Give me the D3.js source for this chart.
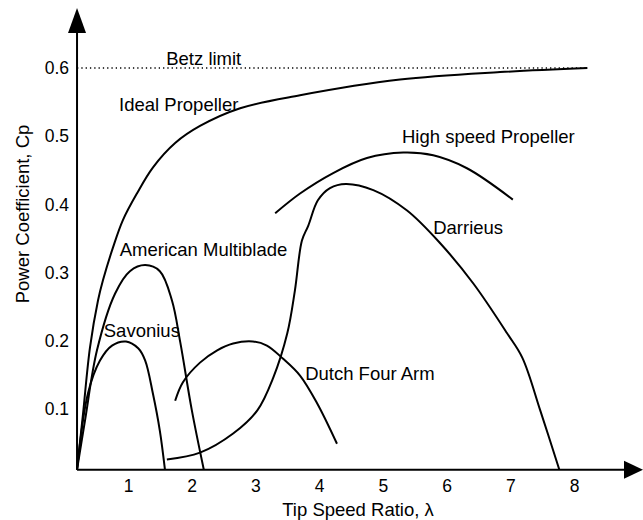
<!DOCTYPE html>
<html>
<head>
<meta charset="utf-8">
<script src="https://cdn.jsdelivr.net/npm/d3@7"></script>
<style>
  html, body { margin: 0; padding: 0; background: #fff; }
  svg { display: block; font-family: "Liberation Sans", Arial, sans-serif; }
</style>
</head>
<body>
<svg id="chart" width="643" height="520"></svg>
<script>
// Power coefficient curves of common rotor types, as [tip speed ratio, Cp] pairs.
const idealPropeller = [[0.2,0.011],[0.294,0.093],[0.403,0.19],[0.529,0.259],[0.608,0.289],[0.765,0.337],[0.92,0.377],[1.14,0.416],[1.39,0.454],[1.74,0.49],[2.13,0.515],[2.76,0.541],[3.7,0.56],[5.27,0.583],[6.84,0.594],[8.21,0.6]];
const americanMultiblade = [[0.2,0.011],[0.325,0.083],[0.513,0.186],[0.796,0.269],[1.03,0.302],[1.27,0.311],[1.5,0.302],[1.69,0.259],[1.82,0.198],[2.0,0.099],[2.19,0.011]];
const savonius = [[0.2,0.011],[0.372,0.123],[0.56,0.171],[0.749,0.193],[0.969,0.199],[1.16,0.189],[1.27,0.171],[1.39,0.123],[1.5,0.068],[1.58,0.011]];
const dutchFourArm = [[1.74,0.112],[1.86,0.139],[2.13,0.168],[2.4,0.186],[2.65,0.196],[2.96,0.199],[3.18,0.193],[3.43,0.174],[3.7,0.149],[3.97,0.108],[4.28,0.049]];
const darrieus = [[1.61,0.026],[2.13,0.036],[2.65,0.064],[3.03,0.098],[3.28,0.146],[3.5,0.211],[3.62,0.274],[3.73,0.347],[3.83,0.369],[3.98,0.406],[4.17,0.424],[4.42,0.43],[4.85,0.421],[5.38,0.391],[5.9,0.343],[6.42,0.284],[6.95,0.211],[7.19,0.175],[7.47,0.098],[7.77,0.011]];
const highSpeedPropeller = [[3.31,0.387],[3.7,0.416],[4.22,0.446],[4.75,0.468],[5.32,0.476],[5.79,0.472],[6.32,0.453],[7.04,0.407]];

const betzLimit = 0.6;
const betzRange = [0.2, 8.21];
const axisOrigin = [0.2, 0.011];

const xTicks = [1, 2, 3, 4, 5, 6, 7, 8];
const yTicks = [0.1, 0.2, 0.3, 0.4, 0.5, 0.6];

// Curve names, anchored at [tip speed ratio, Cp] (left end of text baseline).
const curveLabels = [
  { text: "Betz limit", at: [1.60, 0.604] },
  { text: "Ideal Propeller", at: [0.86, 0.537] },
  { text: "High speed Propeller", at: [5.30, 0.490] },
  { text: "Darrieus", at: [5.79, 0.356] },
  { text: "American Multiblade", at: [0.87, 0.324] },
  { text: "Savonius", at: [0.62, 0.205] },
  { text: "Dutch Four Arm", at: [3.78, 0.142] }
];

const LABEL_FONT = 18.5;
const TICK_FONT = 17.5;
const svg = d3.select("#chart");

const x = d3.scaleLinear().domain([1, 8]).range([128, 574]);
const y = d3.scaleLinear().domain([0.1, 0.6]).range([409, 68]);

const ox = x(axisOrigin[0]);
const oy = y(axisOrigin[1]);

const line = d3.line()
  .x(d => x(d[0]))
  .y(d => y(d[1]))
  .curve(d3.curveCatmullRom.alpha(0.5));

// Betz limit
svg.append("line")
  .attr("x1", x(betzRange[0])).attr("x2", x(betzRange[1]))
  .attr("y1", y(betzLimit)).attr("y2", y(betzLimit))
  .attr("stroke", "#000").attr("stroke-width", 1.3)
  .attr("stroke-dasharray", "1.3,3");

// Rotor curves
[idealPropeller, americanMultiblade, savonius, dutchFourArm, darrieus, highSpeedPropeller]
  .forEach(series => {
    svg.append("path")
      .datum(series)
      .attr("d", line)
      .attr("fill", "none")
      .attr("stroke", "#000")
      .attr("stroke-width", 2);
  });

// Axis lines with arrowheads
const axesG = svg.append("g");
axesG.append("line")
  .attr("x1", ox).attr("y1", oy).attr("x2", ox).attr("y2", 28)
  .attr("stroke", "#000").attr("stroke-width", 2);
axesG.append("path")
  .attr("d", `M${ox},8 L${ox - 9},33 L${ox + 9},33 Z`)
  .attr("fill", "#000");
axesG.append("line")
  .attr("x1", ox).attr("y1", oy).attr("x2", 628).attr("y2", oy)
  .attr("stroke", "#000").attr("stroke-width", 2);
axesG.append("path")
  .attr("d", `M643,${oy} L624,${oy - 9} L624,${oy + 9} Z`)
  .attr("fill", "#000");

// Tick labels
const xAxis = svg.append("g")
  .attr("transform", `translate(0,${oy})`)
  .call(d3.axisBottom(x).tickValues(xTicks).tickSize(0).tickPadding(10).tickFormat(d3.format("d")));
const yAxis = svg.append("g")
  .attr("transform", `translate(${ox},0)`)
  .call(d3.axisLeft(y).tickValues(yTicks).tickSize(0).tickPadding(8).tickFormat(d3.format(".1f")));
[xAxis, yAxis].forEach(g => {
  g.select(".domain").remove();
  g.selectAll("text")
    .attr("font-family", "Liberation Sans, Arial, sans-serif")
    .attr("font-size", TICK_FONT)
    .attr("fill", "#000");
});

// Curve names
svg.append("g").selectAll("text")
  .data(curveLabels)
  .join("text")
  .attr("x", d => x(d.at[0]))
  .attr("y", d => y(d.at[1]))
  .attr("font-size", LABEL_FONT)
  .attr("fill", "#000")
  .text(d => d.text);

// Axis titles
svg.append("text")
  .attr("x", 358).attr("y", 516)
  .attr("text-anchor", "middle")
  .attr("font-size", 18.5)
  .text("Tip Speed Ratio, λ");
svg.append("text")
  .attr("transform", "translate(29,214) rotate(-90)")
  .attr("text-anchor", "middle")
  .attr("font-size", 18.5)
  .text("Power Coefficient, Cp");
</script>
</body>
</html>
